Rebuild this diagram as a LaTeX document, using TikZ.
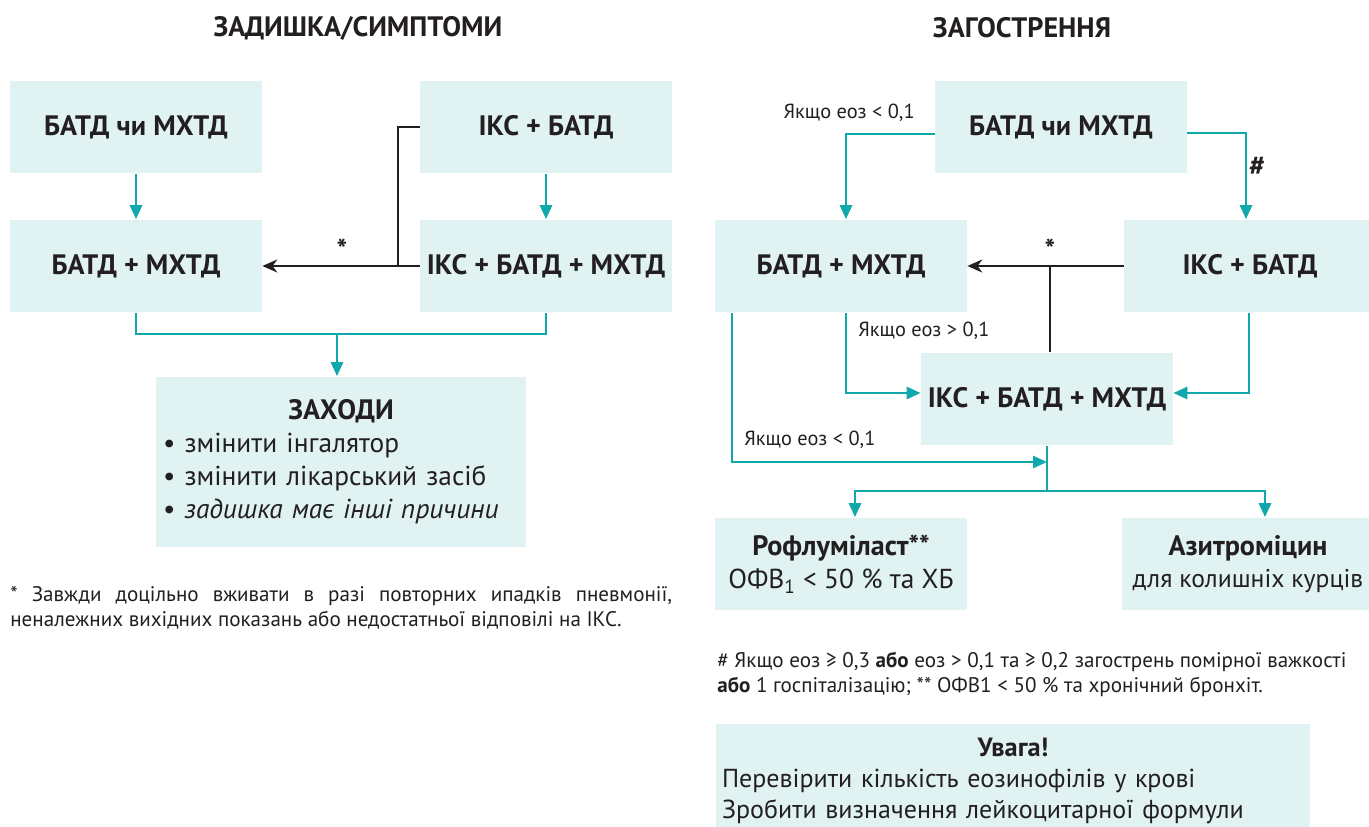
\documentclass[tikz,border=0pt]{standalone}
\usepackage{fontspec}
\setmainfont{PT Sans}
\usetikzlibrary{arrows.meta}
\definecolor{boxfill}{HTML}{E0F2F2}
\definecolor{tealline}{HTML}{10A8AB}
\definecolor{ink}{HTML}{231F20}

\begin{document}
\begin{tikzpicture}[
    x=0.02cm, y=-0.02cm,
    text=ink,
    >={Triangle[length=2.8mm,width=2.4mm]},
    blk/.style={fill=boxfill, minimum width=5.04cm, minimum height=1.86cm,
                align=center, inner sep=2pt,
                font=\fontsize{16}{18.5}\selectfont\bfseries},
    ttl/.style={inner sep=0pt, font=\fontsize{16}{19}\selectfont\bfseries},
    lab/.style={inner sep=0pt, font=\fontsize{11.6}{14}\selectfont},
    note/.style={inner sep=0pt, font=\fontsize{12}{14.2}\selectfont},
    sym/.style={inner sep=0pt, font=\fontsize{16}{18}\selectfont\bfseries},
    tline/.style={tealline, line width=1.6pt},
    sig/.style={->, tealline, line width=1.6pt},
    kline/.style={ink, line width=1.4pt},
    alt/.style={-{Stealth[length=3mm,width=2.6mm]}, ink, line width=1.4pt},
  ]
  \useasboundingbox (0,0) rectangle (1369,827);

  %% ---- left: dyspnoea ------------------------------------------------
  \node[ttl] (t1) at (358,28) {ЗАДИШКА/СИМПТОМИ};

  \node[blk] (A) at (136,127) {БАТД чи МХТД};
  \node[blk] (B) at (546,127) {ІКС + БАТД};
  \node[blk] (C) at (136,266) {БАТД + МХТД};
  \node[blk] (D) at (546,266) {ІКС + БАТД + МХТД};
  \node[blk, minimum width=7.4cm, minimum height=3.42cm, align=left,
        text width=7.12cm, inner xsep=0.14cm,
        font=\fontsize{15.6}{18.8}\selectfont] (E) at (341,462)
    {\makebox[\hsize]{\fontsize{16}{18}\selectfont\bfseries ЗАХОДИ}\\
     • змінити інгалятор\\
     • змінити лікарський засіб\\
     • \textit{задишка має інші причини}};

  \draw[sig] (A) -- (C);
  \draw[sig] (B) -- (D);

  \coordinate (jl) at (398,266);
  \draw[kline] (B.west) -| (jl);
  \draw[alt] (D.west) -- (C.east);
  \node[sym] (s1) at (342,249) {*};

  \coordinate (jc) at (337,334);
  \draw[tline] (C.south) |- (jc) -| (D.south);
  \draw[sig] (jc) -- (jc |- E.north);

  \node[note, anchor=north west, text width=13.24cm, align=justify] (n1) at (10,586)
    {* Завжди доцільно вживати в разі повторних ипадків пневмонії,\linebreak
     неналежних вихідних показань або недостатньої відповілі на ІКС.};

  %% ---- right: exacerbations ------------------------------------------
  \node[ttl] (t2) at (1022,28) {ЗАГОСТРЕННЯ};

  \node[blk] (F) at (1061,127) {БАТД чи МХТД};
  \node[blk] (G) at (841,266) {БАТД + МХТД};
  \node[blk] (H) at (1250,266) {ІКС + БАТД};
  \node[blk] (I) at (1047,399) {ІКС + БАТД + МХТД};
  \node[blk] (J) at (841,564) {Рофлуміласт**\\
    \fontsize{15.6}{18}\selectfont\mdseries ОФВ\textsubscript{1} < 50 \% та ХБ};
  \node[blk] (K) at (1248,564) {Азитроміцин\\
    \fontsize{14.6}{18}\selectfont\mdseries для колишніх курців};

  \draw[sig] ([yshift=-0.14cm]F.west) -| ([xshift=0.1cm]G.north);
  \node[lab, anchor=east] (l1) at (915,113) {Якщо еоз < 0,1};
  \draw[sig] ([yshift=-0.12cm]F.east) -| ([xshift=-0.08cm]H.north);
  \node[sym] (l2) at (1257,166) {\#};

  \coordinate (jr) at (1050,266);
  \draw[alt] (H.west) -- (G.east);
  \draw[kline] (jr) -- (jr |- I.north);
  \node[sym] (s2) at (1050,249) {*};

  \draw[sig] ([xshift=0.1cm]G.south) |- ([yshift=0.12cm]I.west);
  \node[lab, anchor=west] (l3) at (858,331) {Якщо еоз > 0,1};
  \draw[sig] ([xshift=-0.02cm]H.south) |- ([yshift=0.12cm]I.east);

  \coordinate (jb) at (1047,462);
  \coordinate (jd) at (1047,491);
  \draw[sig] ([xshift=-2.18cm]G.south) |- (jb);
  \node[lab, anchor=west] (l4) at (744,440) {Якщо еоз < 0,1};
  \draw[tline] (I.south) -- (jd);
  \draw[sig] (jd) -| ([xshift=0.28cm]J.north);
  \draw[sig] (jd) -| ([xshift=0.34cm]K.north);

  \node[note, anchor=north west, align=left] (n2) at (717,652)
    {\# Якщо еоз ≥ 0,3 \textbf{або} еоз > 0,1 та ≥ 0,2 загострень помірної важкості\\
     \textbf{або} 1 госпіталізацію; ** ОФВ1 < 50 \% та хронічний бронхіт.};

  \node[blk, minimum width=11.88cm, minimum height=2.28cm, align=left,
        text width=11.64cm, inner xsep=0.12cm,
        font=\fontsize{14.8}{17.8}\selectfont] (W) at (1013,781)
    {\makebox[\hsize]{\fontsize{15}{17}\selectfont\bfseries Увага!}\\
     Перевірити кількість еозинофілів у крові\\
     Зробити визначення лейкоцитарної формули};

\end{tikzpicture}
\end{document}
